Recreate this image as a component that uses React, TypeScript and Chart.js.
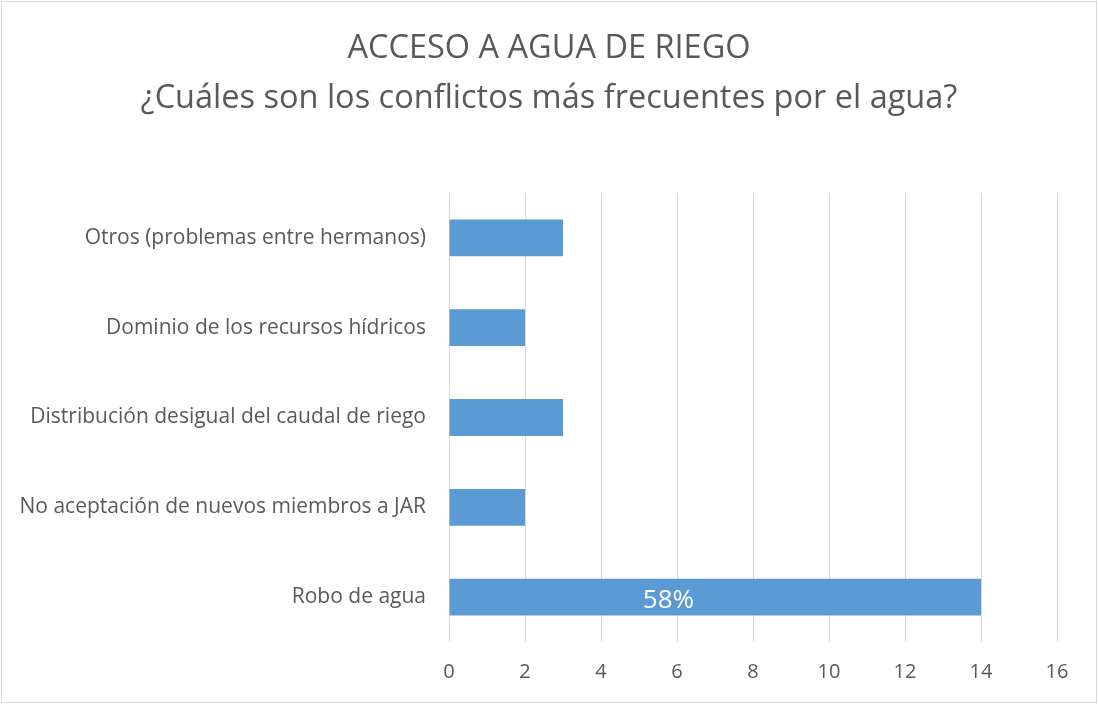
import React, { useEffect, useRef } from "react";
import { Chart, registerables } from "chart.js";

Chart.register(...registerables);

const TITLE_LINES = [
  "ACCESO A AGUA DE RIEGO",
  "¿Cuáles son los conflictos más frecuentes por el agua?",
];
const CATEGORIES = [
  "Otros (problemas entre hermanos)",
  "Dominio de los recursos hídricos",
  "Distribución desigual del caudal de riego",
  "No aceptación de nuevos miembros a JAR",
  "Robo de agua",
];
const VALUES = [3, 2, 3, 2, 14];
const BAR_LABELS = ["", "", "", "", "58%"];
const X_MIN = 0;
const X_MAX = 16;
const X_STEP = 2;

const FONT = "'Open Sans', Lato, sans-serif";
const TEXT = "#595959";
const BAR = "#5B9BD5";
const GRID = "#D9D9D9";

const frame = {
  id: "frame",
  beforeDraw(chart: any) {
    const { ctx, width, height } = chart;
    ctx.save();
    ctx.fillStyle = "#ffffff";
    ctx.fillRect(0, 0, width, height);
    ctx.strokeStyle = GRID;
    ctx.lineWidth = 1;
    ctx.strokeRect(1.5, 1.5, width - 3, height - 3);
    ctx.restore();
  },
  afterDraw(chart: any) {
    const { ctx, width } = chart;
    ctx.save();
    ctx.fillStyle = TEXT;
    ctx.font = `32.5px ${FONT}`;
    ctx.textAlign = "center";
    ctx.textBaseline = "middle";
    TITLE_LINES.forEach((line, i) => {
      ctx.fillText(line, width / 2, 49 + i * 50);
    });
    ctx.restore();
  },
};

const barText = {
  id: "barText",
  afterDatasetsDraw(chart: any) {
    const { ctx } = chart;
    const meta = chart.getDatasetMeta(0);
    ctx.save();
    ctx.fillStyle = "#ffffff";
    ctx.font = `26px ${FONT}`;
    ctx.textAlign = "center";
    ctx.textBaseline = "middle";
    meta.data.forEach((el: any, i: number) => {
      const t = BAR_LABELS[i];
      if (!t) return;
      const x = el.base + (el.x - el.base) * 0.412;
      ctx.fillText(t, x, el.y + 3);
    });
    ctx.restore();
  },
};

export default function App() {
  const ref = useRef<HTMLCanvasElement | null>(null);
  useEffect(() => {
    if (!ref.current) return;
    const chart = new Chart(ref.current, {
      type: "bar",
      data: {
        labels: CATEGORIES,
        datasets: [
          {
            data: VALUES,
            backgroundColor: BAR,
            borderWidth: 0,
            categoryPercentage: 1,
            barPercentage: 0.41,
          },
        ],
      },
      plugins: [frame, barText],
      options: {
        indexAxis: "y",
        animation: false,
        responsive: true,
        maintainAspectRatio: false,
        layout: { padding: { left: 0, right: 41, top: 193, bottom: 0 } },
        plugins: {
          legend: { display: false },
          tooltip: { enabled: false },
          title: { display: false },
        },
        scales: {
          x: {
            type: "linear",
            min: X_MIN,
            max: X_MAX,
            ticks: {
              stepSize: X_STEP,
              color: TEXT,
              font: { family: FONT, size: 20 },
              padding: 18,
            },
            grid: { color: GRID, lineWidth: 1, drawTicks: false },
            border: { display: false },
            afterFit(scale: any) {
              scale.height = 62;
            },
          },
          y: {
            type: "category",
            ticks: {
              color: TEXT,
              font: { family: FONT, size: 21 },
              padding: 23,
            },
            grid: { display: false, drawTicks: false },
            border: { display: false },
            afterFit(scale: any) {
              scale.width = 449;
            },
          },
        },
      },
    });
    return () => chart.destroy();
  }, []);
  return (
    <div style={{ position: "fixed", left: 0, top: 0, width: 1098, height: 704, background: "#fff" }}>
      <canvas ref={ref} />
    </div>
  );
}
